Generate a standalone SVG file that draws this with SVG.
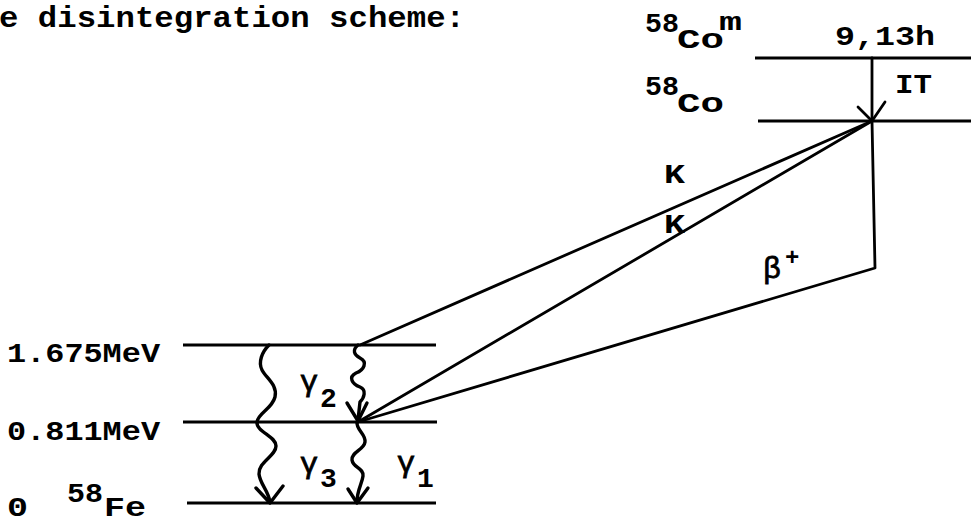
<svg xmlns="http://www.w3.org/2000/svg" width="971" height="524" viewBox="0 0 971 524">
<style>
  text { font-family: "Liberation Mono", "Courier New", monospace; fill: #000; font-size: 28px; font-weight: bold; }
  .title { font-size: 30px; }
  .lvl { stroke: #000; stroke-width: 3; fill: none; }
  .ln { stroke: #000; stroke-width: 2.8; fill: none; stroke-linecap: round; stroke-linejoin: round; }
  .wave { stroke: #000; stroke-width: 3.4; fill: none; stroke-linecap: round; stroke-linejoin: round; }
  .g { font-size: 30px; font-weight: normal; stroke: #000; stroke-width: 0.8px; }
  .sup { font-size: 24px; }
  .sm { font-size: 25px; }
</style>
<rect width="971" height="524" fill="#fff"/>
<text class="title" x="-1" y="27" textLength="466" lengthAdjust="spacingAndGlyphs">e disintegration scheme:</text>

<g id="level-co58m">
  <line class="lvl" x1="755" y1="58" x2="971" y2="58"/>
  <text x="645" y="32" textLength="34" lengthAdjust="spacingAndGlyphs">58</text>
  <text x="677" y="48" textLength="47" lengthAdjust="spacingAndGlyphs">Co</text>
  <text class="sm" x="719" y="30" textLength="23" lengthAdjust="spacingAndGlyphs">m</text>
  <text x="835" y="45" textLength="100" lengthAdjust="spacingAndGlyphs">9,13h</text>
</g>
<g id="level-co58">
  <line class="lvl" x1="758" y1="121" x2="971" y2="121"/>
  <text x="645" y="95" textLength="34" lengthAdjust="spacingAndGlyphs">58</text>
  <text x="677" y="112" textLength="47" lengthAdjust="spacingAndGlyphs">Co</text>
</g>
<g id="level-1675">
  <line class="lvl" x1="183" y1="345" x2="436" y2="345"/>
  <text x="7" y="362" textLength="153" lengthAdjust="spacingAndGlyphs">1.675MeV</text>
</g>
<g id="level-0811">
  <line class="lvl" x1="183" y1="422" x2="437" y2="422"/>
  <text x="7" y="440" textLength="153" lengthAdjust="spacingAndGlyphs">0.811MeV</text>
</g>
<g id="level-0">
  <line class="lvl" x1="187" y1="503" x2="436" y2="503"/>
  <text x="7" y="516" textLength="21" lengthAdjust="spacingAndGlyphs">0</text>
  <text x="67" y="502" textLength="36" lengthAdjust="spacingAndGlyphs">58</text>
  <text x="104" y="516" textLength="42" lengthAdjust="spacingAndGlyphs">Fe</text>
</g>

<g id="connectors">
  <!-- IT -->
  <line class="ln" x1="872" y1="58" x2="872" y2="121"/>
  <polyline class="ln" points="858,107 872,121 885,102"/>
  <text x="895" y="93" textLength="37" lengthAdjust="spacingAndGlyphs">IT</text>
  <!-- K to 1.675 -->
  <line class="ln" x1="360" y1="345" x2="872" y2="121"/>
  <text x="664" y="183" textLength="21" lengthAdjust="spacingAndGlyphs">K</text>
  <!-- K to 0.811 -->
  <line class="ln" x1="358" y1="422" x2="872" y2="121"/>
  <text x="664" y="233" textLength="21" lengthAdjust="spacingAndGlyphs">K</text>
  <!-- beta+ -->
  <polyline class="ln" points="872,121 875,268 358,422"/>
  <text class="g" x="763" y="278">β</text>
  <text class="sup" x="785" y="265">+</text>
  <!-- gamma 3 : 1.675 -> 0 -->
  <path class="wave" d="M269,345 C262,352 258,362 262,370 C266,378 278,385 275,397 C272,409 258,413 257,422 C256,432 276,436 276,446 C276,456 258,462 259,474 C260,484 268,490 270,502"/>
  <polyline class="wave" points="256,488 270,503 283,486"/>
  <!-- gamma 2 : 1.675 -> 0.811 -->
  <path class="wave" d="M358,345 C352,350 354,355 360,358 C368,362 364,370 356,373 C348,377 352,384 360,387 C367,390 364,398 360,402 L358,420"/>
  <polyline class="wave" points="347,403 358,421 367,403"/>
  <!-- gamma 1 : 0.811 -> 0 -->
  <path class="wave" d="M357,422 C356,430 366,434 365,442 C364,450 351,452 352,460 C353,468 364,468 363,476 C362,484 357,490 357,502"/>
  <polyline class="wave" points="348,489 357,503 368,488"/>
  <text class="g" x="300" y="391">γ</text>
  <text x="320" y="407">2</text>
  <text class="g" x="300" y="473">γ</text>
  <text x="320" y="487">3</text>
  <text class="g" x="397" y="472">γ</text>
  <text x="417" y="487">1</text>
</g>
</svg>
